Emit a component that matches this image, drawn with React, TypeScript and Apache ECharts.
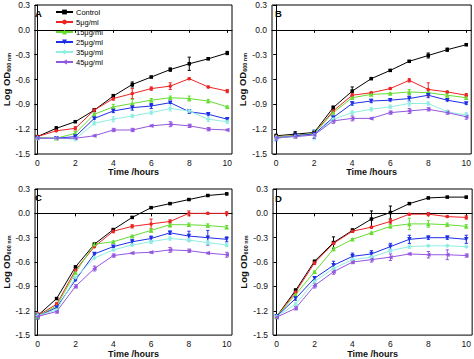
import React, { useEffect, useRef } from 'react';
import * as echarts from 'echarts';

const hours = [0, 1, 2, 3, 4, 5, 6, 7, 8, 9, 10];
const xTicks = [0, 2, 4, 6, 8, 10];
const seriesNames = ['Control', '5μg/ml', '15μg/ml', '25μg/ml', '35μg/ml', '45μg/ml'];
const colors = ['#000000', '#ee2424', '#66dd33', '#1f2fe6', '#8feee2', '#9457e0'];
const symbols = ['rect', 'circle', 'triangle', 'triangle', 'diamond', 'triangle'];
const symbolRotates = [0, 0, 0, 180, 0, 90];
const panelLetters = ['A', 'B', 'C', 'D'];

// Panel A
const aControl = [-1.29, -1.19, -1.11, -0.97, -0.8, -0.66, -0.57, -0.48, -0.41, -0.35, -0.28];
const a5 = [-1.29, -1.22, -1.19, -0.97, -0.83, -0.77, -0.71, -0.68, -0.59, -0.69, -0.74];
const a15 = [-1.3, -1.31, -1.25, -1.02, -0.93, -0.89, -0.85, -0.82, -0.83, -0.86, -0.93];
const a25 = [-1.31, -1.31, -1.29, -1.07, -0.98, -0.94, -0.92, -0.88, -0.99, -1.02, -1.08];
const a35 = [-1.31, -1.31, -1.32, -1.13, -1.08, -1.04, -1.0, -0.95, -0.98, -1.08, -1.11];
const a45 = [-1.31, -1.31, -1.31, -1.28, -1.21, -1.21, -1.16, -1.14, -1.16, -1.2, -1.21];
const aControlErr = [0.01, 0.02, 0.01, 0.02, 0.02, 0.03, 0.01, 0.02, 0.08, 0.01, 0.02];
const a5Err = [0.01, 0.01, 0.02, 0.01, 0.02, 0.06, 0.02, 0.04, 0.01, 0.01, 0.02];
const a15Err = [0.01, 0.01, 0.02, 0.01, 0.03, 0.05, 0.02, 0.02, 0.03, 0.02, 0.01];
const a25Err = [0.01, 0.01, 0.01, 0.01, 0.02, 0.03, 0.03, 0.01, 0.02, 0.01, 0.01];
const a35Err = [0.01, 0.01, 0.02, 0.02, 0.03, 0.02, 0.02, 0.03, 0.02, 0.03, 0.02];
const a45Err = [0.01, 0.01, 0.01, 0.01, 0.02, 0.02, 0.01, 0.03, 0.02, 0.02, 0.01];

// Panel B
const bControl = [-1.28, -1.26, -1.24, -0.94, -0.74, -0.59, -0.49, -0.38, -0.31, -0.24, -0.18];
const b5 = [-1.29, -1.28, -1.25, -0.98, -0.79, -0.76, -0.71, -0.61, -0.72, -0.75, -0.79];
const b15 = [-1.29, -1.28, -1.25, -1.0, -0.82, -0.78, -0.77, -0.75, -0.76, -0.79, -0.82];
const b25 = [-1.31, -1.28, -1.26, -1.06, -0.89, -0.86, -0.85, -0.83, -0.79, -0.85, -0.89];
const b35 = [-1.3, -1.29, -1.27, -1.08, -1.0, -0.96, -0.93, -0.89, -0.89, -0.99, -1.03];
const b45 = [-1.3, -1.29, -1.27, -1.1, -1.07, -1.07, -1.0, -0.98, -0.96, -1.0, -1.05];
const bControlErr = [0.02, 0.03, 0.02, 0.02, 0.05, 0.01, 0.01, 0.01, 0.03, 0.02, 0.01];
const b5Err = [0.02, 0.02, 0.02, 0.01, 0.02, 0.01, 0.01, 0.02, 0.08, 0.01, 0.02];
const b15Err = [0.02, 0.02, 0.02, 0.01, 0.01, 0.01, 0.01, 0.03, 0.02, 0.02, 0.02];
const b25Err = [0.03, 0.02, 0.05, 0.01, 0.02, 0.02, 0.01, 0.03, 0.03, 0.01, 0.01];
const b35Err = [0.03, 0.02, 0.06, 0.02, 0.02, 0.02, 0.02, 0.03, 0.02, 0.02, 0.03];
const b45Err = [0.02, 0.02, 0.04, 0.03, 0.03, 0.01, 0.02, 0.03, 0.02, 0.02, 0.03];

// Panel C
const cControl = [-1.26, -1.05, -0.66, -0.38, -0.2, -0.05, 0.07, 0.12, 0.17, 0.22, 0.24];
const c5 = [-1.26, -1.12, -0.7, -0.41, -0.22, -0.16, -0.13, -0.1, 0.0, 0.0, 0.0];
const c15 = [-1.27, -1.14, -0.73, -0.38, -0.35, -0.28, -0.21, -0.14, -0.14, -0.15, -0.17];
const c25 = [-1.27, -1.16, -0.82, -0.5, -0.41, -0.35, -0.31, -0.24, -0.28, -0.3, -0.32];
const c35 = [-1.26, -1.19, -0.79, -0.55, -0.45, -0.39, -0.35, -0.31, -0.33, -0.36, -0.39];
const c45 = [-1.27, -1.21, -0.9, -0.68, -0.52, -0.49, -0.48, -0.45, -0.46, -0.49, -0.51];
const cControlErr = [0.03, 0.01, 0.01, 0.01, 0.01, 0.01, 0.01, 0.01, 0.01, 0.01, 0.01];
const c5Err = [0.04, 0.02, 0.01, 0.01, 0.02, 0.02, 0.06, 0.02, 0.03, 0.01, 0.02];
const c15Err = [0.03, 0.02, 0.01, 0.02, 0.01, 0.01, 0.02, 0.03, 0.02, 0.02, 0.02];
const c25Err = [0.03, 0.02, 0.01, 0.01, 0.01, 0.03, 0.03, 0.02, 0.06, 0.09, 0.03];
const c35Err = [0.03, 0.02, 0.01, 0.01, 0.01, 0.01, 0.02, 0.02, 0.02, 0.02, 0.02];
const c45Err = [0.03, 0.02, 0.02, 0.03, 0.02, 0.01, 0.01, 0.03, 0.02, 0.01, 0.03];

// Panel D
const dControl = [-1.27, -0.95, -0.59, -0.36, -0.21, -0.07, 0.01, 0.12, 0.19, 0.2, 0.2];
const d5 = [-1.27, -0.97, -0.61, -0.37, -0.22, -0.17, -0.1, -0.01, -0.01, -0.04, -0.05];
const d15 = [-1.27, -1.0, -0.72, -0.44, -0.32, -0.24, -0.16, -0.13, -0.13, -0.14, -0.16];
const d25 = [-1.27, -1.05, -0.8, -0.64, -0.53, -0.5, -0.41, -0.32, -0.3, -0.3, -0.32];
const d35 = [-1.27, -1.12, -0.84, -0.68, -0.57, -0.54, -0.46, -0.41, -0.4, -0.4, -0.41];
const d45 = [-1.28, -1.17, -0.89, -0.72, -0.6, -0.57, -0.54, -0.5, -0.51, -0.51, -0.52];
const dControlErr = [0.02, 0.02, 0.01, 0.07, 0.02, 0.1, 0.08, 0.01, 0.01, 0.01, 0.01];
const d5Err = [0.02, 0.02, 0.02, 0.01, 0.01, 0.01, 0.03, 0.01, 0.02, 0.01, 0.02];
const d15Err = [0.02, 0.02, 0.01, 0.02, 0.01, 0.01, 0.02, 0.07, 0.04, 0.02, 0.02];
const d25Err = [0.02, 0.02, 0.02, 0.05, 0.04, 0.04, 0.04, 0.05, 0.02, 0.02, 0.05];
const d35Err = [0.02, 0.02, 0.02, 0.02, 0.02, 0.02, 0.02, 0.02, 0.01, 0.01, 0.01];
const d45Err = [0.02, 0.02, 0.03, 0.03, 0.02, 0.03, 0.04, 0.01, 0.04, 0.06, 0.02];

const panelValues = [
  [aControl, a5, a15, a25, a35, a45],
  [bControl, b5, b15, b25, b35, b45],
  [cControl, c5, c15, c25, c35, c45],
  [dControl, d5, d15, d25, d35, d45],
];
const panelErrors = [
  [aControlErr, a5Err, a15Err, a25Err, a35Err, a45Err],
  [bControlErr, b5Err, b15Err, b25Err, b35Err, b45Err],
  [cControlErr, c5Err, c15Err, c25Err, c35Err, c45Err],
  [dControlErr, d5Err, d15Err, d25Err, d35Err, d45Err],
];

// layout (pixels)
const grids = [
  { left: 32, top: 5, width: 200, height: 149 },
  { left: 272, top: 5, width: 201, height: 149 },
  { left: 32, top: 189, width: 200, height: 149 },
  { left: 273, top: 189, width: 201, height: 149 },
];
const xRanges = [
  [-0.12, 10.25],
  [-0.22, 10.26],
  [-0.14, 10.28],
  [-0.19, 10.31],
];
const letterPos = [
  [35, 8],
  [275, 8],
  [35, 192],
  [275, 193],
];

const FONT = 'Liberation Sans, Arial, sans-serif';

export default function App() {
  const ref = useRef<HTMLDivElement>(null);
  useEffect(() => {
    if (!ref.current) return;
    const chart = echarts.init(ref.current, null, { renderer: 'svg' });
    const series: any[] = [];
    panelValues.forEach((vals, gi) => {
      vals.forEach((v, si) => {
        const errs = panelErrors[gi][si];
        const color = colors[si];
        series.push({
          type: 'custom',
          xAxisIndex: gi,
          yAxisIndex: gi,
          silent: true,
          z: 2,
          encode: { x: 0, y: [1, 2] },
          data: hours.map((h, i) => [h, v[i] - errs[i], v[i] + errs[i]]),
          renderItem: (params: any, api: any) => {
            const x = api.value(0);
            const lo = api.coord([x, api.value(1)]);
            const hi = api.coord([x, api.value(2)]);
            const w = 1.6;
            const st = { stroke: color, lineWidth: 1 };
            return {
              type: 'group',
              children: [
                { type: 'line', shape: { x1: lo[0], y1: lo[1], x2: hi[0], y2: hi[1] }, style: st },
                { type: 'line', shape: { x1: lo[0] - w, y1: lo[1], x2: lo[0] + w, y2: lo[1] }, style: st },
                { type: 'line', shape: { x1: hi[0] - w, y1: hi[1], x2: hi[0] + w, y2: hi[1] }, style: st },
              ],
            };
          },
        });
        series.push({
          type: 'line',
          name: seriesNames[si],
          xAxisIndex: gi,
          yAxisIndex: gi,
          z: 3,
          data: hours.map((h, i) => [h, v[i]]),
          symbol: symbols[si],
          symbolSize: si === 0 ? 3.5 : si === 1 ? 3.5 : 4.5,
          symbolRotate: symbolRotates[si],
          showSymbol: true,
          lineStyle: { color, width: 1 },
          itemStyle: { color, borderWidth: 0 },
        });
      });
    });

    const option: any = {
      animation: false,
      textStyle: { fontFamily: FONT },
      title: panelLetters.map((t, i) => ({
        text: t,
        left: letterPos[i][0],
        top: letterPos[i][1],
        padding: 0,
        textStyle: { fontSize: 9.5, fontWeight: 'bold', color: '#000', fontFamily: FONT },
      })),
      legend: {
        data: seriesNames,
        orient: 'vertical',
        left: 55,
        top: 8,
        padding: 0,
        itemWidth: 17,
        itemHeight: 6,
        itemGap: 2,
        textStyle: { fontSize: 7.5, color: '#000', fontFamily: FONT, padding: [0, 0, 0, -2] },
      },
      grid: grids.map((g) => ({
        ...g,
        show: true,
        borderColor: '#000',
        borderWidth: 1,
        backgroundColor: 'transparent',
        containLabel: false,
      })),
      xAxis: grids.map((g, gi) => ({
        gridIndex: gi,
        type: 'value',
        min: xRanges[gi][0],
        max: xRanges[gi][1],
        axisLine: { show: true, lineStyle: { color: '#000', width: 1 } },
        axisTick: { show: true, customValues: xTicks, length: 3, lineStyle: { color: '#000' } },
        axisLabel: { customValues: xTicks, fontSize: 8.5, color: '#111', margin: 4, fontFamily: FONT },
        splitLine: { show: false },
        name: 'Time /hours',
        nameLocation: 'middle',
        nameGap: 13,
        nameTextStyle: { fontWeight: 'bold', fontSize: 9, color: '#111', fontFamily: FONT },
      })),
      yAxis: grids.map((g, gi) => ({
        gridIndex: gi,
        type: 'value',
        min: -1.5,
        max: 0.3,
        interval: 0.3,
        axisLine: { show: true, lineStyle: { color: '#000', width: 1 } },
        axisTick: { show: true, length: 3, lineStyle: { color: '#000' } },
        axisLabel: {
          fontSize: 8.5,
          color: '#111',
          margin: 5,
          fontFamily: FONT,
          formatter: (v: number) => (Math.abs(v) < 1e-9 ? '0.0' : v.toFixed(1)),
        },
        splitLine: { show: false },
        name: '{a|Log OD}{b|600 nm}',
        nameLocation: 'middle',
        nameGap: 22,
        nameTextStyle: {
          rich: {
            a: { fontWeight: 'bold', fontSize: 9.5, color: '#111', fontFamily: FONT },
            b: { fontWeight: 'bold', fontSize: 5.5, color: '#111', fontFamily: FONT, verticalAlign: 'bottom', padding: [5, 0, 0, 0] },
          },
        },
      })),
      series,
    };
    chart.setOption(option);
    return () => chart.dispose();
  }, []);
  return (
    <div
      ref={ref}
      style={{ position: 'fixed', left: 0, top: 0, width: 474, height: 359, background: '#fff' }}
    />
  );
}
